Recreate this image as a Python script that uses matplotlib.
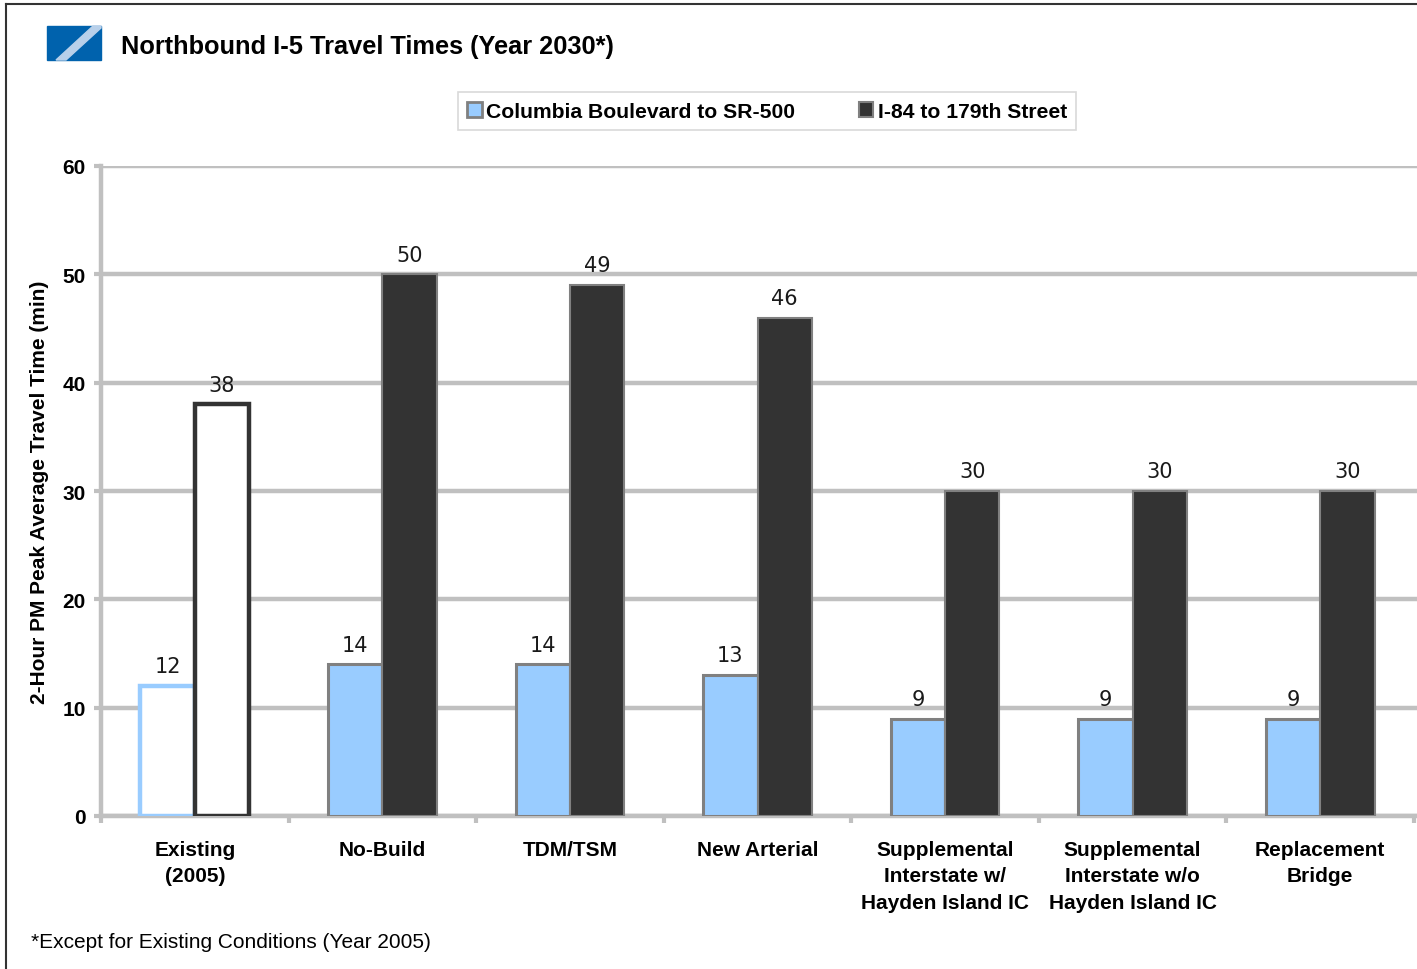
import matplotlib
matplotlib.use("Agg")
import matplotlib.pyplot as plt
from matplotlib.patches import Rectangle, Polygon, Patch
from matplotlib.lines import Line2D
import numpy as np

categories = ["Existing\n(2005)", "No-Build", "TDM/TSM", "New Arterial",
              "Supplemental\nInterstate w/\nHayden Island IC",
              "Supplemental\nInterstate w/o\nHayden Island IC",
              "Replacement\nBridge"]
columbia = [12, 14, 14, 13, 9, 9, 9]
i84 = [38, 50, 49, 46, 30, 30, 30]
series_names = ["Columbia Boulevard to SR-500", "I-84 to 179th Street"]
yticks = [0, 10, 20, 30, 40, 50, 60]

LIGHT = "#99ccff"
DARK = "#333333"
EDGE = "#808080"
GRID = "#c0c0c0"
SANS = ["Liberation Sans", "DejaVu Sans"]

W, H = 1417, 970
fig = plt.figure(figsize=(W / 100, H / 100), dpi=100)
fig.patch.set_facecolor("white")

def fx(px):
    return px / W

def fy(py):
    return 1 - py / H

ax = fig.add_axes([fx(101), fy(817), fx(1417) - fx(101), fy(167) - fy(817)])
ax.set_ylim(0, 60)
ax.set_xlim(-0.5, 6.5 + 3 / 187.6)

x = np.arange(len(categories))
w = 0.29
lx = x - w / 2
dx = x + w / 2

ax.set_yticks(yticks)
ax.yaxis.grid(True, color=GRID, linewidth=3.2, zorder=0)
ax.set_axisbelow(True)

for i in range(len(categories)):
    if i == 0:
        ax.bar(lx[i], columbia[i], width=w, color="white", edgecolor=LIGHT,
               linewidth=3.2, zorder=3)
        ax.bar(dx[i], i84[i], width=w, color="white", edgecolor=DARK,
               linewidth=3.2, zorder=3)
    else:
        ax.bar(lx[i], columbia[i], width=w, color=LIGHT, edgecolor=EDGE,
               linewidth=2.2, zorder=3)
        ax.bar(dx[i], i84[i], width=w, color=DARK, edgecolor=EDGE,
               linewidth=1.5, zorder=3)
    for xv, v in ((lx[i], columbia[i]), (dx[i], i84[i])):
        ax.text(xv, v + 0.9, str(v), ha="center", va="bottom",
                fontsize=15, family="DejaVu Sans", color="#1a1a1a")

for s in ["top", "right"]:
    ax.spines[s].set_visible(False)
for s in ["left", "bottom"]:
    ax.spines[s].set_color(GRID)
    ax.spines[s].set_linewidth(3.2)

ax.set_xticks(x)
ax.set_xticklabels(categories, fontsize=15, fontweight="bold", family=SANS,
                   linespacing=1.5)
ax.tick_params(axis="x", length=0, pad=17)
ax.set_xticks(np.arange(-0.5, 7.0, 1.0), minor=True)
ax.tick_params(axis="x", which="minor", length=5, width=3, color=GRID)
ax.tick_params(axis="y", length=5, width=3, color=GRID, pad=6)
for lab in ax.get_yticklabels():
    lab.set_fontsize(15)
    lab.set_fontweight("bold")
    lab.set_family(SANS)

fig.text(fx(40), fy(492), "2-Hour PM Peak Average Travel Time (min)", rotation=90,
         ha="center", va="center", fontsize=15, fontweight="bold", family=SANS)

# title and logo
fig.text(fx(121), fy(47), "Northbound I-5 Travel Times (Year 2030*)", ha="left",
         va="center", fontsize=18.3, fontweight="bold", family=SANS)
fig.patches.append(Rectangle((fx(47), fy(61)), fx(54), fy(27) - fy(61),
                             transform=fig.transFigure, color="#0062ad", zorder=5))
fig.patches.append(Polygon([(fx(56), fy(61)), (fx(66), fy(61)), (fx(101), fy(29)),
                            (fx(101), fy(27)), (fx(93), fy(27))], closed=True,
                           transform=fig.transFigure, color="#b8d0ea", zorder=6))

# legend
handles = [Patch(facecolor=LIGHT, edgecolor=EDGE, linewidth=2),
           Patch(facecolor=DARK, edgecolor=EDGE, linewidth=1.5)]
leg = fig.legend(handles, series_names, loc="center", bbox_to_anchor=(fx(767), fy(112)),
                 ncol=2, frameon=True, fancybox=False, handlelength=0.7,
                 handleheight=0.7, handletextpad=0.2, columnspacing=3.0,
                 borderpad=0.45, borderaxespad=0,
                 prop={"family": SANS, "weight": "bold", "size": 15.2})
leg.get_frame().set_edgecolor("#d0d0d0")
leg.get_frame().set_linewidth(1.2)

# footnote
fig.text(fx(31), fy(943), "*Except for Existing Conditions (Year 2005)", ha="left",
         va="center", fontsize=15, family=SANS)

# border
fig.lines.append(Line2D([fx(6), fx(6)], [0, fy(5)], transform=fig.transFigure,
                        color="#333333", linewidth=1.5))
fig.lines.append(Line2D([fx(6), 1], [fy(5), fy(5)], transform=fig.transFigure,
                        color="#333333", linewidth=1.5))

fig.savefig("out.png", dpi=100)
